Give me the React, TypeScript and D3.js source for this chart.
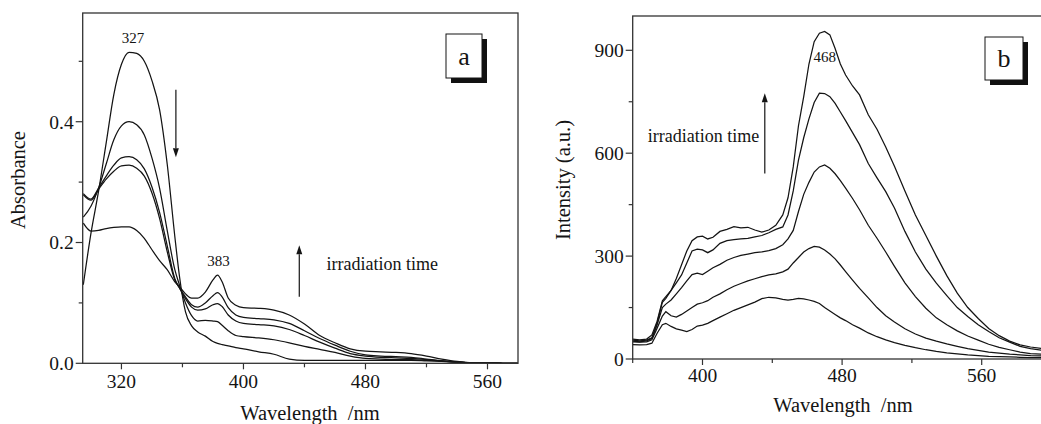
import React from 'react';
import * as d3 from 'd3';

// ---- panel a : absorbance ----
const absWavelengths = [295, 300, 305, 310, 315, 320, 325, 330, 335, 340, 345, 350, 355, 358, 362, 366, 370, 375, 380, 383, 386, 390, 395, 400, 410, 420, 430, 440, 450, 460, 470, 480, 490, 500, 510, 520, 530, 540, 550, 560, 570, 580];
const absInitial = [0.13, 0.215, 0.285, 0.365, 0.445, 0.495, 0.515, 0.513, 0.5, 0.468, 0.42, 0.33, 0.21, 0.145, 0.085, 0.062, 0.052, 0.045, 0.036, 0.033, 0.031, 0.029, 0.026, 0.024, 0.019, 0.015, 0.007, 0.005, 0.005, 0.005, 0.005, 0.005, 0.005, 0.005, 0.005, 0.004, 0.003, 0.002, 0.001, 0.001, 0, 0];
const absStep1 = [0.242, 0.26, 0.29, 0.33, 0.37, 0.393, 0.4, 0.395, 0.378, 0.34, 0.29, 0.22, 0.155, 0.13, 0.1, 0.079, 0.07, 0.071, 0.07, 0.069, 0.063, 0.054, 0.046, 0.044, 0.042, 0.039, 0.034, 0.028, 0.023, 0.018, 0.012, 0.008, 0.007, 0.006, 0.006, 0.005, 0.004, 0.002, 0.001, 0.001, 0, 0];
const absStep2 = [0.281, 0.272, 0.29, 0.31, 0.328, 0.34, 0.342, 0.337, 0.322, 0.292, 0.25, 0.195, 0.14, 0.125, 0.107, 0.093, 0.088, 0.09, 0.097, 0.099, 0.094, 0.08, 0.07, 0.066, 0.064, 0.062, 0.056, 0.046, 0.035, 0.025, 0.016, 0.012, 0.01, 0.009, 0.008, 0.006, 0.004, 0.002, 0.001, 0.001, 0, 0];
const absStep3 = [0.279, 0.27, 0.288, 0.305, 0.318, 0.327, 0.328, 0.323, 0.31, 0.282, 0.24, 0.185, 0.138, 0.125, 0.11, 0.097, 0.093, 0.1, 0.112, 0.117, 0.11, 0.092, 0.08, 0.076, 0.074, 0.072, 0.066, 0.054, 0.041, 0.03, 0.02, 0.014, 0.012, 0.011, 0.01, 0.007, 0.004, 0.002, 0.001, 0.001, 0, 0];
const absFinal = [0.232, 0.219, 0.22, 0.223, 0.225, 0.226, 0.226, 0.22, 0.207, 0.188, 0.17, 0.155, 0.135, 0.127, 0.115, 0.108, 0.108, 0.118, 0.138, 0.146, 0.135, 0.108, 0.096, 0.092, 0.091, 0.088, 0.08, 0.065, 0.046, 0.034, 0.024, 0.02, 0.019, 0.018, 0.016, 0.012, 0.007, 0.003, 0.001, 0.001, 0, 0];
const absSeries = [absInitial, absStep1, absStep2, absStep3, absFinal];
const absMajorX = [320, 400, 480, 560];
const absMinorX = [360, 440, 520];
const absMajorY = [0, 0.2, 0.4];
const absMinorY = [0.1, 0.3, 0.5];

// ---- panel b : fluorescence ----
const flWavelengths = [360, 364, 368, 371, 374, 377, 379, 382, 385, 388, 391, 394, 397, 400, 403, 406, 410, 414, 418, 422, 426, 430, 434, 438, 442, 446, 449, 452, 455, 458, 461, 464, 467, 470, 473, 476, 479, 482, 486, 490, 495, 500, 505, 510, 516, 522, 528, 534, 540, 546, 552, 558, 564, 570, 576, 582, 588, 594, 600];
const flT1 = [42, 41, 42, 46, 75, 100, 104, 95, 88, 84, 80, 86, 96, 99, 104, 112, 122, 132, 142, 150, 158, 166, 176, 180, 178, 174, 172, 174, 177, 175, 172, 168, 162, 150, 140, 130, 120, 112, 100, 90, 76, 65, 56, 48, 40, 33, 27, 22, 18, 15, 12, 10, 8, 7, 6, 5, 4, 4, 3];
const flT2 = [50, 49, 50, 56, 90, 125, 138, 126, 122, 130, 140, 150, 160, 164, 170, 180, 190, 202, 212, 220, 228, 234, 240, 245, 248, 254, 262, 280, 296, 312, 322, 328, 326, 318, 306, 292, 274, 255, 230, 206, 178, 150, 126, 108, 88, 73, 61, 52, 44, 37, 30, 25, 20, 17, 14, 12, 10, 9, 8];
const flT3 = [52, 50, 53, 60, 100, 150, 160, 172, 190, 208, 228, 246, 250, 246, 256, 266, 276, 288, 296, 302, 306, 310, 312, 316, 322, 333, 350, 375, 430, 480, 515, 545, 560, 566, 556, 540, 520, 498, 468, 435, 390, 352, 312, 270, 222, 182, 148, 120, 100, 82, 67, 55, 43, 34, 27, 20, 16, 14, 12];
const flT4 = [55, 53, 55, 62, 105, 165, 177, 200, 222, 245, 280, 315, 320, 318, 310, 318, 337, 345, 348, 350, 352, 356, 360, 368, 378, 385, 420, 490, 580, 645, 700, 748, 775, 774, 765, 745, 720, 695, 660, 625, 570, 528, 488, 440, 372, 312, 262, 221, 185, 150, 124, 100, 80, 62, 49, 37, 30, 26, 22];
const flT5 = [58, 56, 58, 70, 110, 170, 182, 200, 235, 275, 315, 345, 356, 358, 350, 355, 372, 378, 386, 382, 384, 376, 370, 376, 390, 420, 470, 560, 680, 765, 860, 925, 950, 955, 945, 905, 860, 828, 796, 770, 712, 670, 618, 562, 490, 420, 360, 300, 243, 192, 150, 118, 89, 68, 52, 41, 35, 31, 28];
const flSeries = [flT1, flT2, flT3, flT4, flT5];
const flMajorX = [400, 480, 560];
const flMinorX = [360, 440, 520];
const flMajorY = [0, 300, 600, 900];
const flMinorY = [150, 450, 750];

const FONT = '"Liberation Serif", "Times New Roman", serif';
const INK = '#141414';

const pA = { left: 82.7, top: 13, right: 518, bottom: 363.3 };
const pB = { left: 632.7, top: 16, right: 1051.5, bottom: 359 };

const xA = d3.scaleLinear().domain([294.6, 580]).range([pA.left, pA.right]);
const yA = d3.scaleLinear().domain([0, 0.58]).range([pA.bottom, pA.top]);
const xB = d3.scaleLinear().domain([360, 600]).range([pB.left, pB.right]);
const yB = d3.scaleLinear().domain([0, 1000]).range([pB.bottom, pB.top]);

const Arrow = ({ x, y1, y2 }: { x: number; y1: number; y2: number }) => {
  const dir = y2 > y1 ? 1 : -1;
  const head = 9;
  return (
    <g>
      <line x1={x} x2={x} y1={y1} y2={y2 - dir * head} stroke={INK} strokeWidth={1.2} />
      <path d={`M${x},${y2} L${x - 3},${y2 - dir * head} L${x + 3},${y2 - dir * head} Z`} fill={INK} />
    </g>
  );
};

const LabelBox = ({ x, y, w, h, label }: { x: number; y: number; w: number; h: number; label: string }) => (
  <g>
    <rect x={x + 5} y={y + 5} width={w} height={h} fill="#111" />
    <rect x={x} y={y} width={w} height={h} fill="#fff" stroke={INK} strokeWidth={1} />
    <text x={x + w / 2} y={y + h / 2} dy="0.33em" textAnchor="middle" fontSize={26} fontFamily={FONT} fill={INK}>{label}</text>
  </g>
);

const App = () => {
  const lineA = d3.line<number>()
    .x((_, i) => xA(absWavelengths[i]))
    .y((d) => yA(d))
    .curve(d3.curveMonotoneX);
  const lineB = d3.line<number>()
    .x((_, i) => xB(flWavelengths[i]))
    .y((d) => yB(d));

  return (
    <svg width={1041} height={424} style={{ position: 'absolute', left: 0, top: 0, background: '#fff' }}>
      <defs>
        <clipPath id="clipA"><rect x={pA.left} y={pA.top} width={pA.right - pA.left} height={pA.bottom - pA.top} /></clipPath>
        <clipPath id="clipB"><rect x={pB.left} y={pB.top} width={pB.right - pB.left} height={pB.bottom - pB.top} /></clipPath>
      </defs>

      {/* panel a */}
      <g clipPath="url(#clipA)">
        {absSeries.map((s, i) => (
          <path key={i} d={lineA(s) || ''} fill="none" stroke={INK} strokeWidth={1.25} />
        ))}
      </g>
      <rect x={pA.left} y={pA.top} width={pA.right - pA.left} height={pA.bottom - pA.top} fill="none" stroke="#333" strokeWidth={1.3} />
      {absMajorX.map((t) => (
        <g key={t}>
          <line x1={xA(t)} x2={xA(t)} y1={pA.bottom} y2={pA.bottom + 6} stroke="#333" strokeWidth={1.2} />
          <text x={xA(t)} y={388} textAnchor="middle" fontSize={19.5} fontFamily={FONT} fill={INK}>{t}</text>
        </g>
      ))}
      {absMinorX.map((t) => (
        <line key={t} x1={xA(t)} x2={xA(t)} y1={pA.bottom} y2={pA.bottom + 4} stroke="#333" strokeWidth={1.2} />
      ))}
      {absMajorY.map((t) => (
        <g key={t}>
          <line x1={pA.left - 7} x2={pA.left} y1={yA(t)} y2={yA(t)} stroke="#333" strokeWidth={1.2} />
          <text x={pA.left - 9} y={yA(t)} dy="0.35em" textAnchor="end" fontSize={19.5} fontFamily={FONT} fill={INK}>{t.toFixed(1)}</text>
        </g>
      ))}
      {absMinorY.map((t) => (
        <line key={t} x1={pA.left - 4} x2={pA.left} y1={yA(t)} y2={yA(t)} stroke="#333" strokeWidth={1.2} />
      ))}
      <text x={310} y={420} textAnchor="middle" fontSize={20.5} fontFamily={FONT} fill={INK} style={{ whiteSpace: 'pre' }}>Wavelength  /nm</text>
      <text transform="translate(25,180) rotate(-90)" textAnchor="middle" fontSize={20.5} fontFamily={FONT} fill={INK}>Absorbance</text>
      <text x={xA(327.5)} y={yA(0.53)} textAnchor="middle" fontSize={15} fontFamily={FONT} fill={INK}>327</text>
      <text x={xA(383.6)} y={yA(0.161)} textAnchor="middle" fontSize={15} fontFamily={FONT} fill={INK}>383</text>
      <Arrow x={xA(355.7)} y1={yA(0.453)} y2={yA(0.341)} />
      <Arrow x={xA(436.6)} y1={yA(0.11)} y2={yA(0.1955)} />
      <text x={xA(454.4)} y={yA(0.155)} fontSize={18} fontFamily={FONT} fill={INK}>irradiation time</text>
      <LabelBox x={446} y={34} w={36} h={44} label="a" />

      {/* panel b */}
      <g clipPath="url(#clipB)">
        {flSeries.map((s, i) => (
          <path key={i} d={lineB(s) || ''} fill="none" stroke={INK} strokeWidth={1.25} />
        ))}
      </g>
      <rect x={pB.left} y={pB.top} width={pB.right - pB.left} height={pB.bottom - pB.top} fill="none" stroke="#333" strokeWidth={1.3} />
      {flMajorX.map((t) => (
        <g key={t}>
          <line x1={xB(t)} x2={xB(t)} y1={pB.bottom} y2={pB.bottom + 6} stroke="#333" strokeWidth={1.2} />
          <text x={xB(t)} y={382} textAnchor="middle" fontSize={19.5} fontFamily={FONT} fill={INK}>{t}</text>
        </g>
      ))}
      {flMinorX.map((t) => (
        <line key={t} x1={xB(t)} x2={xB(t)} y1={pB.bottom} y2={pB.bottom + 4} stroke="#333" strokeWidth={1.2} />
      ))}
      {flMajorY.map((t) => (
        <g key={t}>
          <line x1={pB.left - 7} x2={pB.left} y1={yB(t)} y2={yB(t)} stroke="#333" strokeWidth={1.2} />
          <text x={pB.left - 9} y={yB(t)} dy="0.35em" textAnchor="end" fontSize={19.5} fontFamily={FONT} fill={INK}>{t}</text>
        </g>
      ))}
      {flMinorY.map((t) => (
        <line key={t} x1={pB.left - 4} x2={pB.left} y1={yB(t)} y2={yB(t)} stroke="#333" strokeWidth={1.2} />
      ))}
      <text x={843} y={412} textAnchor="middle" fontSize={20.5} fontFamily={FONT} fill={INK} style={{ whiteSpace: 'pre' }}>Wavelength  /nm</text>
      <text transform="translate(570,180) rotate(-90)" textAnchor="middle" fontSize={20.5} fontFamily={FONT} fill={INK}>Intensity (a.u.)</text>
      <text x={xB(470.1)} y={yB(867)} textAnchor="middle" fontSize={15} fontFamily={FONT} fill={INK}>468</text>
      <Arrow x={xB(435.7)} y1={yB(541)} y2={yB(775)} />
      <text x={xB(432.5)} y={yB(633)} textAnchor="end" fontSize={18} fontFamily={FONT} fill={INK}>irradiation time</text>
      <LabelBox x={985} y={37} w={38} h={43} label="b" />
    </svg>
  );
};

export default App;
